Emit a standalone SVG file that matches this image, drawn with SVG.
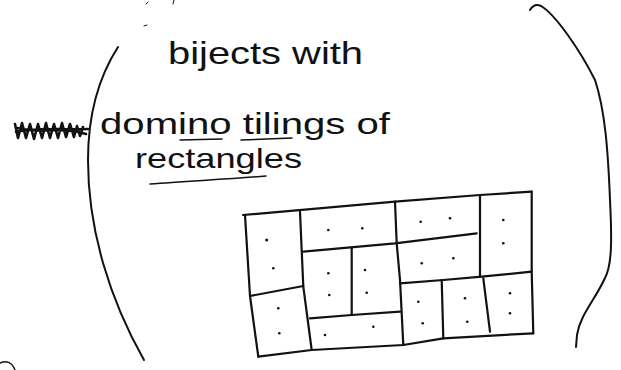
<svg xmlns="http://www.w3.org/2000/svg" width="621" height="370" viewBox="0 0 621 370">
<style>
.ink{fill:none;stroke:#111;stroke-linecap:round;stroke-linejoin:round}
.p{stroke-width:2}
.g{stroke-width:2.2}
.hw{font-family:"Liberation Sans","DejaVu Sans",sans-serif;fill:#111;font-weight:normal}
.d{fill:#111}
</style>
<rect width="621" height="370" fill="#fff"/>
<g id="parens">
<path class="ink p" d="M118,47 C100,75 88,110 88,160 C88,230 110,300 144,360"/>
<path class="ink p" d="M530,10 C533,5 537,4 541,6 C555,14 580,50 595,80 C605,110 608,150 610,200 C612,240 612,265 605,278 C595,300 580,315 577,335 L576,347"/>
<path class="ink" stroke-width="1.5" d="M0,363 C6,360 12,362 15,370"/>
<path class="ink" stroke-width="1" d="M146,4 l2,-2 M144,26 l3,-1 M173,4 l1,-4"/>
</g>
<g id="text">
<text class="hw" x="168" y="64" font-size="32" textLength="195" lengthAdjust="spacingAndGlyphs">bijects with</text>
<text class="hw" x="100" y="134" font-size="30" textLength="290" lengthAdjust="spacingAndGlyphs">domino tilings of</text>
<text class="hw" x="135" y="168" font-size="28" textLength="167" lengthAdjust="spacingAndGlyphs">rectangles</text>
<path class="ink" stroke-width="1.5" d="M180,140 L222,139 M241,140 L292,138 M150,184 C190,181 230,179 266,176"/>
<path class="ink" stroke-width="2.6" d="M15,124 l3,14 l4,-15 l4,15 l4,-14 l4,15 l4,-15 l4,14 l4,-15 l4,15 l4,-14 l4,14 l4,-15 l4,14 l4,-13 l4,13 l3,-11 l3,10 l3,-9 M16,132 C35,127 60,130 88,129 M17,128 C40,134 62,126 86,134"/>
</g>
<g id="tiling">
<path class="ink g" d="M243,215 L395,201.7 L480,195 L531.7,191.7"/>
<path class="ink g" d="M245,215 L250,296 L258.3,356.7"/>
<path class="ink g" d="M250,296 L303.3,286"/>
<path class="ink g" d="M300,211.7 L303.3,286.7 L311.7,350"/>
<path class="ink g" d="M303.3,251.7 L395,243.3 L476.7,233.3"/>
<path class="ink g" d="M395,201.7 L396.7,243.3 L400,280 L403.3,345"/>
<path class="ink g" d="M351.7,248.3 L351.7,315"/>
<path class="ink g" d="M310,318.3 L351.7,315 L400,311.7"/>
<path class="ink g" d="M400,283.3 L443.3,280 L481.7,276.7 L531.7,271.7"/>
<path class="ink g" d="M480,195 L480,276.7 M483.3,278.3 L490,331.7"/>
<path class="ink g" d="M441.7,280 L443.3,338.3"/>
<path class="ink g" d="M531.7,191.7 L531.7,271.7 L533.3,333.3"/>
<path class="ink g" d="M258.3,356.7 L311.7,350 L403.3,345 L443.3,338.3 L533.3,333.3"/>
</g>
<g id="dots" class="d">
<circle cx="266.7" cy="240" r="1.5"/><circle cx="273.3" cy="268.3" r="1.3"/>
<circle cx="278.3" cy="308.3" r="1.3"/><circle cx="279.3" cy="333.3" r="1.3"/>
<circle cx="328.3" cy="230" r="1.3"/><circle cx="362.3" cy="228.3" r="1.3"/>
<circle cx="328.3" cy="273.3" r="1.3"/><circle cx="329.3" cy="295" r="1.3"/>
<circle cx="365" cy="270" r="1.3"/><circle cx="366.7" cy="292.7" r="1.3"/>
<circle cx="325" cy="335" r="1.3"/><circle cx="373.3" cy="326.7" r="1.3"/>
<circle cx="420.7" cy="221.7" r="1.3"/><circle cx="450" cy="218.3" r="1.3"/>
<circle cx="503.3" cy="220" r="1.3"/><circle cx="503.3" cy="243.3" r="1.3"/>
<circle cx="421.7" cy="263.3" r="1.3"/><circle cx="453.3" cy="258.3" r="1.3"/>
<circle cx="418.3" cy="301.7" r="1.3"/><circle cx="422.7" cy="323.3" r="1.3"/>
<circle cx="465" cy="298.3" r="1.3"/><circle cx="467.3" cy="321.7" r="1.3"/>
<circle cx="510" cy="293.3" r="1.3"/><circle cx="510" cy="313.3" r="1.3"/>
</g>
</svg>
